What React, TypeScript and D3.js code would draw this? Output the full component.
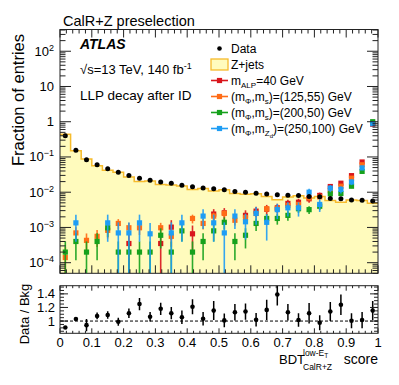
import React from 'react';
import * as d3 from 'd3';

const W = 399;
const H = 385;
const FONT = "'Liberation Sans', Arial, Helvetica, sans-serif";

const nBins = 30;
const xTickValues = [0, 0.1, 0.2, 0.3, 0.4, 0.5, 0.6, 0.7, 0.8, 0.9, 1];
const xTickLabels = ['0', '0.1', '0.2', '0.3', '0.4', '0.5', '0.6', '0.7', '0.8', '0.9', '1'];
const yExponents = [-4, -3, -2, -1, 0, 1, 2];
const ratioTicks = [1, 1.2, 1.4];
const ratioTickLabels = ['1', '1.2', '1.4'];

// Data (fraction of entries per bin)
const dataFrac = [0.40, 0.155, 0.083, 0.060, 0.046, 0.037, 0.030, 0.025, 0.022, 0.0196,
  0.018, 0.0158, 0.0144, 0.0132, 0.0126, 0.0118, 0.0104, 0.0100, 0.0093, 0.0089,
  0.0085, 0.0082, 0.0080, 0.0076, 0.0074, 0.0066, 0.0065, 0.0060, 0.0059, 0.0056];

// Z+jets background
const zjets = [0.44, 0.150, 0.088, 0.056, 0.042, 0.037, 0.027, 0.020, 0.0207, 0.0166,
  0.0161, 0.0150, 0.0119, 0.0128, 0.0109, 0.0117, 0.0092, 0.0088, 0.0091, 0.0076,
  0.0061, 0.0073, 0.0079, 0.0068, 0.0076, 0.0058, 0.0052, 0.0060, 0.0058, 0.0049];

// Data / Bkg
const ratio = [0.906, 1.03, 0.94, 1.075, 1.09, 0.99, 1.115, 1.25, 1.064, 1.18,
  1.115, 1.055, 1.21, 1.034, 1.154, 1.01, 1.13, 1.14, 1.02, 1.164,
  1.39, 1.13, 1.015, 1.115, 0.975, 1.14, 1.24, 1.005, 1.015, 1.154];
const ratioErr = [0.012, 0.025, 0.09, 0.05, 0.055, 0.06, 0.07, 0.09, 0.07, 0.09,
  0.09, 0.1, 0.11, 0.1, 0.14, 0.1, 0.12, 0.12, 0.1, 0.15,
  0.16, 0.12, 0.1, 0.15, 0.11, 0.14, 0.15, 0.11, 0.12, 0.14];

// Signals (null = empty bin)
const sigALP40 = [null, null, null, null, null, null, 3.5e-4, null, null, 3.5e-4,
  1.02e-3, null, 6.6e-4, null, 2.4e-3, 2.6e-3, null, 2.2e-3, 2.9e-3, 3.3e-3,
  3.6e-3, 4.8e-3, 5.2e-3, 6.5e-3, 8.1e-3, 1.45e-2, 1.8e-2, 2.95e-2, 7.2e-2, 0.85];
const sig125_55 = [1.4e-4, 7.0e-4, 4.3e-4, 5.6e-4, 8.3e-4, 1.3e-3, 9.8e-4, 9.8e-4, null, 9.8e-4,
  5.6e-4, null, 1.8e-3, 1.3e-3, 2.1e-3, 2.5e-3, 1.6e-3, 1.9e-3, 2.5e-3, 3.4e-3,
  3.4e-3, 4.2e-3, 4.5e-3, 6.9e-3, 7.4e-3, 1.1e-2, 1.48e-2, 2.5e-2, 6.0e-2, 0.9];
const sig200_50 = [2e-4, 4e-4, 2e-4, 4e-4, 9.8e-4, 2e-4, 2e-4, 2e-4, 2e-4, 6e-4,
  2e-4, 8e-4, 2e-4, 4e-4, 8e-4, 1.4e-3, 4e-4, 6e-4, 1.3e-3, 1.8e-3,
  1.8e-3, 2.2e-3, 3.4e-3, 3.2e-3, 4e-3, 9e-3, 9.2e-3, 1.48e-2, 3.9e-2, 1.0];
const sig250_100 = [null, 1.35e-3, null, null, 1.35e-3, 7e-4, 7e-4, 1.35e-3, 6.6e-4, null,
  7e-4, 1.35e-3, null, 2.1e-3, 1.35e-3, 7e-4, 2.1e-3, 1.45e-3, 2.5e-3, 1.4e-3,
  3.2e-3, 3.6e-3, 3.6e-3, 1.0e-2, 4.5e-3, 1.3e-2, 1.2e-2, 1.95e-2, 4.9e-2, 0.88];

const signalValues = [sigALP40, sig125_55, sig200_50, sig250_100];
const signalColors = ['#d9151c', '#ff6c17', '#16a11c', '#1e9df4'];
const signalEventWeight = [3.4e-4, 1.4e-4, 2.0e-4, 6.8e-4];

const MX0 = 60, MX1 = 378, MY0 = 29.5, MY1 = 273.3;
const RY0 = 285.7, RY1 = 333.3;

export default function App() {
  const x = d3.scaleLinear().domain([0, 1]).range([MX0, MX1]);
  const y = d3.scaleLog().domain([5e-5, 414]).range([MY1, MY0]);
  const yr = d3.scaleLinear().domain([0.82, 1.52]).range([RY1, RY0]);
  const bw = 1 / nBins;
  const centers = d3.range(nBins).map((i) => (i + 0.5) * bw);

  const stepPts: [number, number][] = [];
  zjets.forEach((v, i) => {
    stepPts.push([x(i * bw), y(v)]);
    stepPts.push([x((i + 1) * bw), y(v)]);
  });
  const line = d3.line<[number, number]>();
  const histLine = line(stepPts) || '';
  const fillPts: [number, number][] = [[MX0, MY1], ...stepPts, [MX1, MY1]];
  const fillPath = (line(fillPts) || '') + 'Z';

  const xMinor = d3.range(0, 51).map((i) => i * 0.02);
  const yMinor: number[] = [];
  for (let e = -5; e <= 2; e++) {
    for (let m = 2; m <= 9; m++) {
      const v = m * Math.pow(10, e);
      if (v >= 5e-5 && v <= 414) yMinor.push(v);
    }
  }
  const rMinor = d3.range(0, 15).map((i) => 0.85 + i * 0.05).filter((v) => v <= 1.52);

  const tickStroke = '#222';

  const legendRows = [48.5, 64.5, 80.5, 96.5, 112.5, 128.5];
  const legX = 219.5;
  const legTextX = 231;
  const legFont = 12;

  const subStyle = { fontSize: 8 };

  const signalLabels = [
    <>m<tspan dy={3} style={subStyle}>ALP</tspan><tspan dy={-3}>=40 GeV</tspan></>,
    <>(m<tspan dy={3} style={subStyle}>Φ</tspan><tspan dy={-3}>,m</tspan><tspan dy={3} style={subStyle}>s</tspan><tspan dy={-3}>)=(125,55) GeV</tspan></>,
    <>(m<tspan dy={3} style={subStyle}>Φ</tspan><tspan dy={-3}>,m</tspan><tspan dy={3} style={subStyle}>s</tspan><tspan dy={-3}>)=(200,50) GeV</tspan></>,
    <>(m<tspan dy={3} style={subStyle}>Φ</tspan><tspan dy={-3}>,m</tspan><tspan dy={3} style={subStyle}>Z</tspan><tspan dy={2} style={{ fontSize: 6 }}>d</tspan><tspan dy={-5}>)=(250,100) GeV</tspan></>,
  ];

  return (
    <svg width={W} height={H} style={{ position: 'absolute', left: 0, top: 0, background: '#fff' }} fontFamily={FONT}>
      <defs>
        <clipPath id="mainClip">
          <rect x={MX0} y={MY0} width={MX1 - MX0} height={MY1 - MY0} />
        </clipPath>
        <clipPath id="ratioClip">
          <rect x={MX0} y={RY0} width={MX1 - MX0} height={RY1 - RY0} />
        </clipPath>
      </defs>
      <rect x={0} y={0} width={W} height={H} fill="#fff" />

      {/* Main plot */}
      <g clipPath="url(#mainClip)">
        <path d={fillPath} fill="#fffbbd" stroke="none" />
        <path d={histLine} fill="none" stroke="#f6bb2c" strokeWidth={1.5} />
        {signalValues.map((vals, s) => (
          <g key={s}>
            {vals.map((v, i) => {
              if (v == null) return null;
              const err = Math.sqrt(v * signalEventWeight[s]);
              const lo = Math.max(v - err, 1e-7);
              const hi = v + err;
              const cx = x(centers[i]);
              return (
                <g key={i}>
                  <line x1={cx} x2={cx} y1={y(Math.max(lo, 5e-5))} y2={y(hi)} stroke={signalColors[s]} strokeWidth={1.6} opacity={0.9} />
                  <rect x={cx - 2.6} y={y(v) - 2.6} width={5.2} height={5.2} fill={signalColors[s]} />
                </g>
              );
            })}
          </g>
        ))}
        {dataFrac.map((v, i) => (
          <circle key={i} cx={x(centers[i])} cy={y(v)} r={2.5} fill="#000" />
        ))}
      </g>

      {/* Main ticks */}
      <g stroke={tickStroke} strokeWidth={1}>
        {xMinor.map((v, i) => {
          const major = i % 5 === 0;
          const len = major ? 8 : 4;
          return (
            <g key={i}>
              <line x1={x(v)} x2={x(v)} y1={MY1} y2={MY1 - len} />
              <line x1={x(v)} x2={x(v)} y1={MY0} y2={MY0 + len} />
            </g>
          );
        })}
        {yExponents.map((e) => {
          const yy = y(Math.pow(10, e));
          return (
            <g key={e}>
              <line x1={MX0} x2={MX0 + 11} y1={yy} y2={yy} />
              <line x1={MX1} x2={MX1 - 11} y1={yy} y2={yy} />
            </g>
          );
        })}
        {yMinor.map((v, i) => (
          <g key={i}>
            <line x1={MX0} x2={MX0 + 5.5} y1={y(v)} y2={y(v)} />
            <line x1={MX1} x2={MX1 - 5.5} y1={y(v)} y2={y(v)} />
          </g>
        ))}
      </g>
      <rect x={MX0} y={MY0} width={MX1 - MX0} height={MY1 - MY0} fill="none" stroke="#222" strokeWidth={1} />

      {/* Main y tick labels */}
      <g fontSize={13} fill="#000" textAnchor="end">
        {yExponents.map((e) => {
          const yy = y(Math.pow(10, e)) + 4.5;
          if (e === 0) return <text key={e} x={54} y={yy}>1</text>;
          if (e === 1) return <text key={e} x={54} y={yy}>10</text>;
          return (
            <text key={e} x={54} y={yy}>
              10<tspan dy={-5} fontSize={9}>{String(e).replace('-', '\u2212')}</tspan>
            </text>
          );
        })}
      </g>

      {/* Titles */}
      <text x={63} y={25.5} fontSize={14.5} fill="#000">CalR+Z preselection</text>
      <text transform="translate(24,34) rotate(-90)" textAnchor="end" fontSize={16.5} fill="#000">Fraction of entries</text>

      <text x={80} y={48.5} fontSize={14} fontWeight="bold" fontStyle="italic" fill="#000">ATLAS</text>
      <text x={80} y={74} fontSize={13} fill="#000">
        √s=13 TeV, 140 fb<tspan dy={-5} fontSize={9}>-1</tspan>
      </text>
      <text x={80} y={100} fontSize={13.5} fill="#000">LLP decay after ID</text>

      {/* Legend */}
      <g fontSize={legFont} fill="#000">
        <circle cx={legX} cy={legendRows[0]} r={2.3} fill="#000" />
        <text x={legTextX} y={legendRows[0] + 4.3}>Data</text>
        <rect x={211} y={legendRows[1] - 5.5} width={17} height={11} fill="#fffbbd" stroke="#f6bb2c" strokeWidth={1.3} />
        <text x={legTextX} y={legendRows[1] + 4.3}>Z+jets</text>
        {signalColors.map((c, s) => (
          <g key={s}>
            <line x1={211} x2={228} y1={legendRows[2 + s]} y2={legendRows[2 + s]} stroke={c} strokeWidth={1.6} />
            <rect x={legX - 2.6} y={legendRows[2 + s] - 2.6} width={5.2} height={5.2} fill={c} />
            <text x={legTextX} y={legendRows[2 + s] + 4.3}>{signalLabels[s]}</text>
          </g>
        ))}
      </g>

      {/* Ratio panel */}
      <line x1={MX0} x2={MX1} y1={yr(1)} y2={yr(1)} stroke="#000" strokeWidth={1} strokeDasharray="3,2" />
      <g clipPath="url(#ratioClip)">
        {ratio.map((r, i) => {
          const cx = x(centers[i]);
          return (
            <g key={i}>
              <line x1={cx} x2={cx} y1={yr(r - ratioErr[i])} y2={yr(r + ratioErr[i])} stroke="#000" strokeWidth={1.5} />
              <circle cx={cx} cy={yr(r)} r={2.3} fill="#000" />
            </g>
          );
        })}
      </g>
      <g stroke={tickStroke} strokeWidth={1}>
        {xMinor.map((v, i) => {
          const major = i % 5 === 0;
          const len = major ? 5 : 2.5;
          return (
            <g key={i}>
              <line x1={x(v)} x2={x(v)} y1={RY1} y2={RY1 - len} />
              <line x1={x(v)} x2={x(v)} y1={RY0} y2={RY0 + len} />
            </g>
          );
        })}
        {ratioTicks.map((v, i) => (
          <g key={i}>
            <line x1={MX0} x2={MX0 + 8} y1={yr(v)} y2={yr(v)} />
            <line x1={MX1} x2={MX1 - 8} y1={yr(v)} y2={yr(v)} />
          </g>
        ))}
        {rMinor.map((v, i) => (
          <g key={i}>
            <line x1={MX0} x2={MX0 + 4} y1={yr(v)} y2={yr(v)} />
            <line x1={MX1} x2={MX1 - 4} y1={yr(v)} y2={yr(v)} />
          </g>
        ))}
      </g>
      <rect x={MX0} y={RY0} width={MX1 - MX0} height={RY1 - RY0} fill="none" stroke="#222" strokeWidth={1} />

      <g fontSize={13} fill="#000" textAnchor="end">
        {ratioTicks.map((v, i) => (
          <text key={i} x={55} y={yr(v) + 4.5}>{ratioTickLabels[i]}</text>
        ))}
      </g>
      <g fontSize={13} fill="#000" textAnchor="middle">
        {xTickValues.map((v, i) => (
          <text key={i} x={x(v)} y={346.5}>{xTickLabels[i]}</text>
        ))}
      </g>
      <text transform="translate(29,314) rotate(-90)" textAnchor="middle" fontSize={13} fill="#000">Data / Bkg</text>

      {/* X axis title */}
      <g fill="#000">
        <text x={279} y={364} fontSize={13}>BDT</text>
        <text x={303} y={356} fontSize={8.5}>low-E<tspan dy={2} fontSize={6.5}>T</tspan></text>
        <text x={303} y={369.5} fontSize={8.5}>CalR+Z</text>
        <text x={378} y={364} fontSize={14} textAnchor="end">score</text>
      </g>
    </svg>
  );
}
